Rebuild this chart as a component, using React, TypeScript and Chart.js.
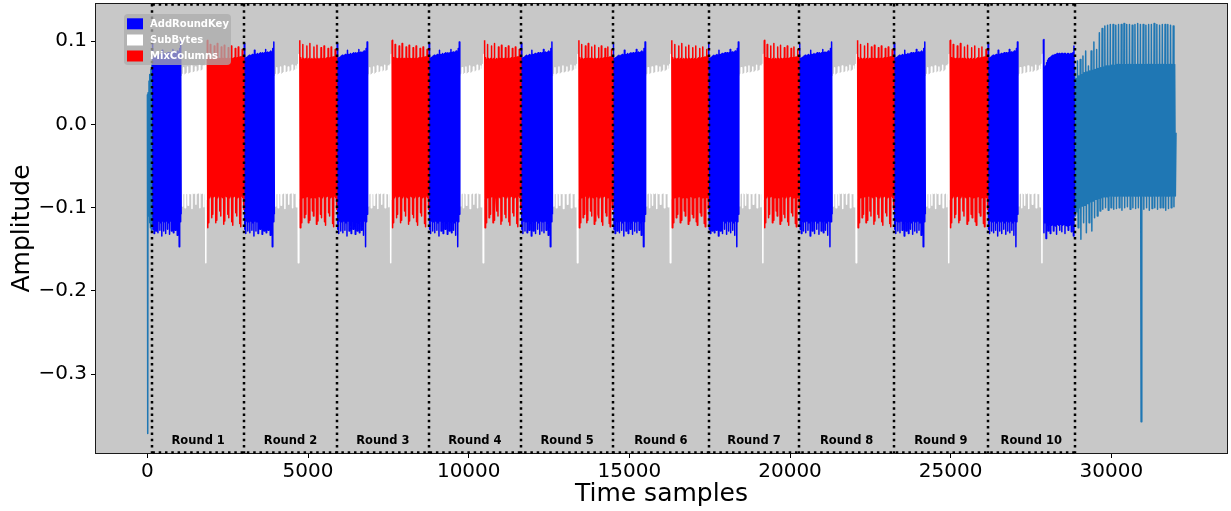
import React, { useEffect, useRef } from 'react';
import { Chart, registerables } from 'chart.js';

Chart.register(...registerables);

// ---- Data (sample indices / amplitudes) ----
const ROUND_BOUNDS = [155, 3006, 5898, 8758, 11628, 14497, 17463, 20293, 23234, 26156, 28861];
const SUBBYTES_STARTS = [1057, 3958, 6862, 9731, 12614, 15514, 18415, 21319, 24219, 27101];
const MIXCOL_STARTS = [1856, 4735, 7608, 10487, 13422, 16313, 19192, 22096, 24975];
const FINAL_ARK_START = 27878;
const TRACE_END = 32013;
const ROUND_LABELS = ['Round 1', 'Round 2', 'Round 3', 'Round 4', 'Round 5', 'Round 6', 'Round 7', 'Round 8', 'Round 9', 'Round 10'];
const X_TICKS = [0, 5000, 10000, 15000, 20000, 25000, 30000];
const Y_TICKS = [-0.3, -0.2, -0.1, 0.0, 0.1];
const LEGEND_LABELS = ['AddRoundKey', 'SubBytes', 'MixColumns'];

// AddRoundKey stroke envelope (per stroke: peak high / peak low)
const ARK_HIGH = [0.097, 0.079, 0.080, 0.081, 0.082, 0.083, 0.082, 0.083, 0.084, 0.083, 0.089, 0.084, 0.084, 0.085, 0.084, 0.085, 0.086, 0.085, 0.086, 0.085, 0.086, 0.090, 0.086, 0.087, 0.086, 0.087, 0.088, 0.087, 0.091, 0.099];
const ARK_LOW = [-0.126, -0.131, -0.116, -0.128, -0.117, -0.130, -0.116, -0.127, -0.118, -0.134, -0.116, -0.128, -0.117, -0.131, -0.116, -0.126, -0.118, -0.132, -0.116, -0.128, -0.117, -0.130, -0.116, -0.127, -0.118, -0.133, -0.116, -0.147, -0.117, -0.108];
// SubBytes
const SB_HIGH = [0.058, 0.060, 0.068, 0.059, 0.060, 0.061, 0.069, 0.060, 0.061, 0.062, 0.070, 0.061, 0.062, 0.063, 0.069, 0.062, 0.063, 0.064, 0.071, 0.063, 0.064, 0.065, 0.070, 0.066, 0.072, 0.084];
const SB_LOW = [-0.098, -0.083, -0.082, -0.100, -0.082, -0.083, -0.097, -0.082, -0.083, -0.082, -0.101, -0.082, -0.083, -0.082, -0.096, -0.083, -0.082, -0.082, -0.100, -0.082, -0.083, -0.082, -0.099, -0.083, -0.166, -0.090];
// MixColumns
const MC_HIGH = [0.101, 0.080, 0.078, 0.096, 0.079, 0.078, 0.079, 0.094, 0.078, 0.079, 0.097, 0.078, 0.079, 0.078, 0.093, 0.079, 0.078, 0.095, 0.079, 0.078, 0.079, 0.092, 0.078, 0.079, 0.094, 0.078, 0.079, 0.080, 0.091, 0.079, 0.080, 0.093, 0.080, 0.081, 0.081, 0.090, 0.082];
const MC_LOW = [-0.124, -0.118, -0.088, -0.086, -0.112, -0.108, -0.087, -0.086, -0.118, -0.115, -0.088, -0.086, -0.104, -0.110, -0.087, -0.088, -0.120, -0.116, -0.086, -0.087, -0.108, -0.112, -0.088, -0.086, -0.117, -0.121, -0.087, -0.086, -0.106, -0.110, -0.088, -0.087, -0.119, -0.123, -0.086, -0.088, -0.102];
// Final AddRoundKey (round 10)
const FINAL_ARK_HIGH = [0.102, 0.068, 0.070, 0.074, 0.077, 0.079, 0.080, 0.081, 0.082, 0.083, 0.083, 0.084, 0.084, 0.085, 0.084, 0.085, 0.084, 0.085, 0.085, 0.084, 0.085, 0.085, 0.084, 0.085, 0.085, 0.084, 0.085, 0.085, 0.086, 0.094];
const FINAL_ARK_LOW = [-0.130, -0.118, -0.137, -0.121, -0.128, -0.120, -0.131, -0.121, -0.120, -0.128, -0.121, -0.122, -0.132, -0.120, -0.121, -0.127, -0.120, -0.129, -0.121, -0.120, -0.131, -0.121, -0.122, -0.127, -0.121, -0.120, -0.129, -0.121, -0.134, -0.110];
// Leading trace segment
const HEAD_X = [0, 10, 20, 35, 50, 65, 80, 95, 110, 125, 140, 155];
const HEAD_Y = [0.036, -0.371, 0.038, -0.110, 0.052, -0.118, 0.060, -0.124, 0.066, -0.127, 0.072, -0.120];
// Trailing trace segment (per period: spike top, tooth bottom, body top, body bottom)
const TAIL_SPIKE = [0.070, 0.076, 0.078, 0.082, 0.088, 0.070, 0.088, 0.099, 0.090, 0.110, 0.115, 0.118, 0.119, 0.120, 0.120, 0.119, 0.120, 0.120, 0.121, 0.120, 0.120, 0.119, 0.120, 0.121, 0.120, 0.120, 0.119, 0.120, 0.120, 0.121, 0.120, 0.119, 0.120, 0.120, 0.120, 0.119, 0.118];
const TAIL_TOOTH = [-0.110, -0.124, -0.138, -0.118, -0.130, -0.118, -0.128, -0.112, -0.110, -0.104, -0.102, -0.100, -0.103, -0.100, -0.102, -0.101, -0.100, -0.103, -0.100, -0.099, -0.102, -0.100, -0.101, -0.100, -0.357, -0.102, -0.100, -0.103, -0.101, -0.100, -0.102, -0.100, -0.100, -0.103, -0.101, -0.100, -0.099];
const TAIL_BODY_TOP = [0.055, 0.058, 0.060, 0.062, 0.063, 0.064, 0.065, 0.066, 0.067, 0.068, 0.069, 0.070, 0.070, 0.071, 0.071, 0.072, 0.072, 0.072, 0.072, 0.072, 0.072, 0.072, 0.072, 0.072, 0.072, 0.072, 0.072, 0.072, 0.072, 0.072, 0.072, 0.072, 0.072, 0.072, 0.072, 0.072, 0.072];
const TAIL_BODY_BOTTOM = [-0.105, -0.100, -0.098, -0.097, -0.095, -0.093, -0.092, -0.090, -0.089, -0.088, -0.087, -0.087, -0.086, -0.086, -0.086, -0.086, -0.086, -0.086, -0.086, -0.086, -0.086, -0.086, -0.086, -0.086, -0.086, -0.086, -0.086, -0.086, -0.086, -0.086, -0.086, -0.086, -0.086, -0.086, -0.086, -0.086, -0.086];
const TAIL_END_VALUE = -0.010;

const FONT = "'DejaVu Sans', sans-serif";
const BLUE = '#0000ff';
const RED = '#ff0000';
const WHITE = '#ffffff';
const TEAL = '#1f77b4';

type P = { x: number; y: number };

function strokes(start: number, end: number, high: number[], low: number[]): P[] {
  const n = high.length;
  const dx = (end - start) / n;
  const pts: P[] = [];
  for (let i = 0; i < n; i++) {
    pts.push({ x: start + dx * (i + 0.25), y: high[i] });
    pts.push({ x: start + dx * (i + 0.75), y: low[i] });
  }
  return pts;
}

function tail(): P[] {
  const start = ROUND_BOUNDS[ROUND_BOUNDS.length - 1];
  const n = TAIL_SPIKE.length;
  const p = (TRACE_END - start) / n;
  const pts: P[] = [];
  for (let i = 0; i < n; i++) {
    pts.push({ x: start + p * i, y: TAIL_SPIKE[i] });
    pts.push({ x: start + p * (i + 0.25), y: TAIL_TOOTH[i] });
    pts.push({ x: start + p * (i + 0.5), y: TAIL_BODY_TOP[i] });
    pts.push({ x: start + p * (i + 0.75), y: TAIL_BODY_BOTTOM[i] });
  }
  pts.push({ x: TRACE_END, y: TAIL_END_VALUE });
  return pts;
}

function ds(data: P[], color: string, order: number) {
  return {
    data,
    borderColor: color,
    backgroundColor: color,
    borderWidth: 1.5,
    pointRadius: 0,
    fill: false,
    tension: 0,
    borderJoinStyle: 'round' as const,
    order,
  };
}

export default function App() {
  const ref = useRef<HTMLCanvasElement | null>(null);

  useEffect(() => {
    if (!ref.current) return;
    const datasets: any[] = [];
    datasets.push(ds(HEAD_X.map((x, i) => ({ x, y: HEAD_Y[i] })), TEAL, 5));
    for (let r = 0; r < 10; r++) {
      datasets.push(ds(strokes(ROUND_BOUNDS[r], SUBBYTES_STARTS[r], ARK_HIGH, ARK_LOW), BLUE, 2));
      const sbEnd = r < 9 ? MIXCOL_STARTS[r] : FINAL_ARK_START;
      datasets.push(ds(strokes(SUBBYTES_STARTS[r], sbEnd, SB_HIGH, SB_LOW), WHITE, 3));
      if (r < 9) {
        datasets.push(ds(strokes(MIXCOL_STARTS[r], ROUND_BOUNDS[r + 1], MC_HIGH, MC_LOW), RED, 2));
      }
    }
    datasets.push(ds(strokes(FINAL_ARK_START, ROUND_BOUNDS[10], FINAL_ARK_HIGH, FINAL_ARK_LOW), BLUE, 2));
    datasets.push(ds(tail(), TEAL, 4));

    const decor = {
      id: 'decor',
      beforeDraw(chart: any) {
        const { ctx, chartArea: a } = chart;
        ctx.save();
        ctx.fillStyle = '#c8c8c8';
        ctx.fillRect(a.left, a.top, a.right - a.left, a.bottom - a.top);
        ctx.restore();
      },
      afterDatasetsDraw(chart: any) {
        const { ctx, chartArea: a } = chart;
        const xs = chart.scales.x;
        ctx.save();
        // frame
        ctx.strokeStyle = '#1a1a1a';
        ctx.lineWidth = 1;
        ctx.strokeRect(a.left - 0.5, a.top - 0.5, a.right - a.left + 1, a.bottom - a.top + 1);
        // dotted round boxes
        ctx.strokeStyle = '#000';
        ctx.lineWidth = 2.5;
        ctx.setLineDash([2.5, 3.8]);
        ctx.lineCap = 'butt';
        for (const b of ROUND_BOUNDS) {
          const px = Math.round(xs.getPixelForValue(b));
          ctx.beginPath();
          ctx.moveTo(px, a.top);
          ctx.lineTo(px, a.bottom);
          ctx.stroke();
        }
        const x0 = xs.getPixelForValue(ROUND_BOUNDS[0]);
        const x1 = xs.getPixelForValue(ROUND_BOUNDS[ROUND_BOUNDS.length - 1]);
        for (const y of [a.top + 0.5, a.bottom - 0.5]) {
          ctx.beginPath();
          ctx.moveTo(x0, y);
          ctx.lineTo(x1, y);
          ctx.stroke();
        }
        ctx.setLineDash([]);
        // round labels
        ctx.fillStyle = '#000';
        ctx.font = `bold 11.5px ${FONT}`;
        ctx.textAlign = 'center';
        ctx.textBaseline = 'middle';
        for (let r = 0; r < ROUND_LABELS.length; r++) {
          const cx = xs.getPixelForValue((ROUND_BOUNDS[r] + ROUND_BOUNDS[r + 1]) / 2);
          ctx.fillText(ROUND_LABELS[r], cx, a.bottom - 12);
        }
        // legend
        const lx = a.left + 28;
        const ly = a.top + 10;
        ctx.fillStyle = 'rgba(172,172,172,0.75)';
        ctx.beginPath();
        (ctx as any).roundRect(lx, ly, 107, 51, 4);
        ctx.fill();
        const colors = [BLUE, WHITE, RED];
        const rows = [19.8, 36, 52];
        ctx.font = `bold 10px ${FONT}`;
        ctx.textAlign = 'left';
        for (let i = 0; i < 3; i++) {
          const cy = a.top + rows[i];
          ctx.fillStyle = colors[i];
          ctx.fillRect(a.left + 31, cy - 5.5, 16, 11);
          ctx.fillStyle = '#fff';
          ctx.fillText(LEGEND_LABELS[i], a.left + 54, cy + 0.5);
        }
        ctx.restore();
      },
    };

    const tickFont = { family: FONT, size: 20 };
    const chart = new Chart(ref.current, {
      type: 'line',
      data: { datasets },
      options: {
        animation: false,
        responsive: true,
        maintainAspectRatio: false,
        events: [],
        layout: { padding: { top: 4, right: 4, left: 0, bottom: 0 } },
        plugins: { legend: { display: false }, tooltip: { enabled: false } },
        scales: {
          x: {
            type: 'linear',
            min: -1600,
            max: 33600,
            afterBuildTicks: (s: any) => {
              s.ticks = X_TICKS.map((v) => ({ value: v }));
            },
            ticks: {
              font: tickFont,
              color: '#000',
              padding: 2,
              maxRotation: 0,
              autoSkip: false,
              callback: (v: any) => String(v),
            },
            grid: { display: true, drawOnChartArea: false, drawTicks: true, tickLength: 5, color: '#000', lineWidth: 1 },
            border: { display: false },
            title: { display: true, text: 'Time samples', color: '#000', font: { family: FONT, size: 25 }, padding: { top: 0, bottom: 2 } },
            afterFit: (s: any) => {
              s.height = 58;
              s.paddingLeft = 0;
              s.paddingRight = 0;
              s.paddingTop = 0;
              s.paddingBottom = 0;
            },
          },
          y: {
            type: 'linear',
            min: -0.3945,
            max: 0.1445,
            afterBuildTicks: (s: any) => {
              s.ticks = Y_TICKS.map((v) => ({ value: v }));
            },
            ticks: {
              font: tickFont,
              color: '#000',
              padding: 4,
              autoSkip: false,
              callback: (v: any) => (v < -1e-9 ? '\u2212' : '') + Math.abs(Number(v)).toFixed(1),
            },
            grid: { display: true, drawOnChartArea: false, drawTicks: true, tickLength: 5, color: '#000', lineWidth: 1 },
            border: { display: false },
            title: { display: true, text: 'Amplitude', color: '#000', font: { family: FONT, size: 25 }, padding: { top: 7, bottom: 0 } },
            afterFit: (s: any) => {
              s.width = 96;
              s.paddingLeft = 0;
              s.paddingRight = 0;
              s.paddingTop = 0;
              s.paddingBottom = 0;
            },
          },
        },
      } as any,
      plugins: [decor],
    });
    return () => chart.destroy();
  }, []);

  return (
    <div style={{ position: 'absolute', left: 0, top: 0, width: 1231, height: 511 }}>
      <canvas ref={ref} />
    </div>
  );
}
